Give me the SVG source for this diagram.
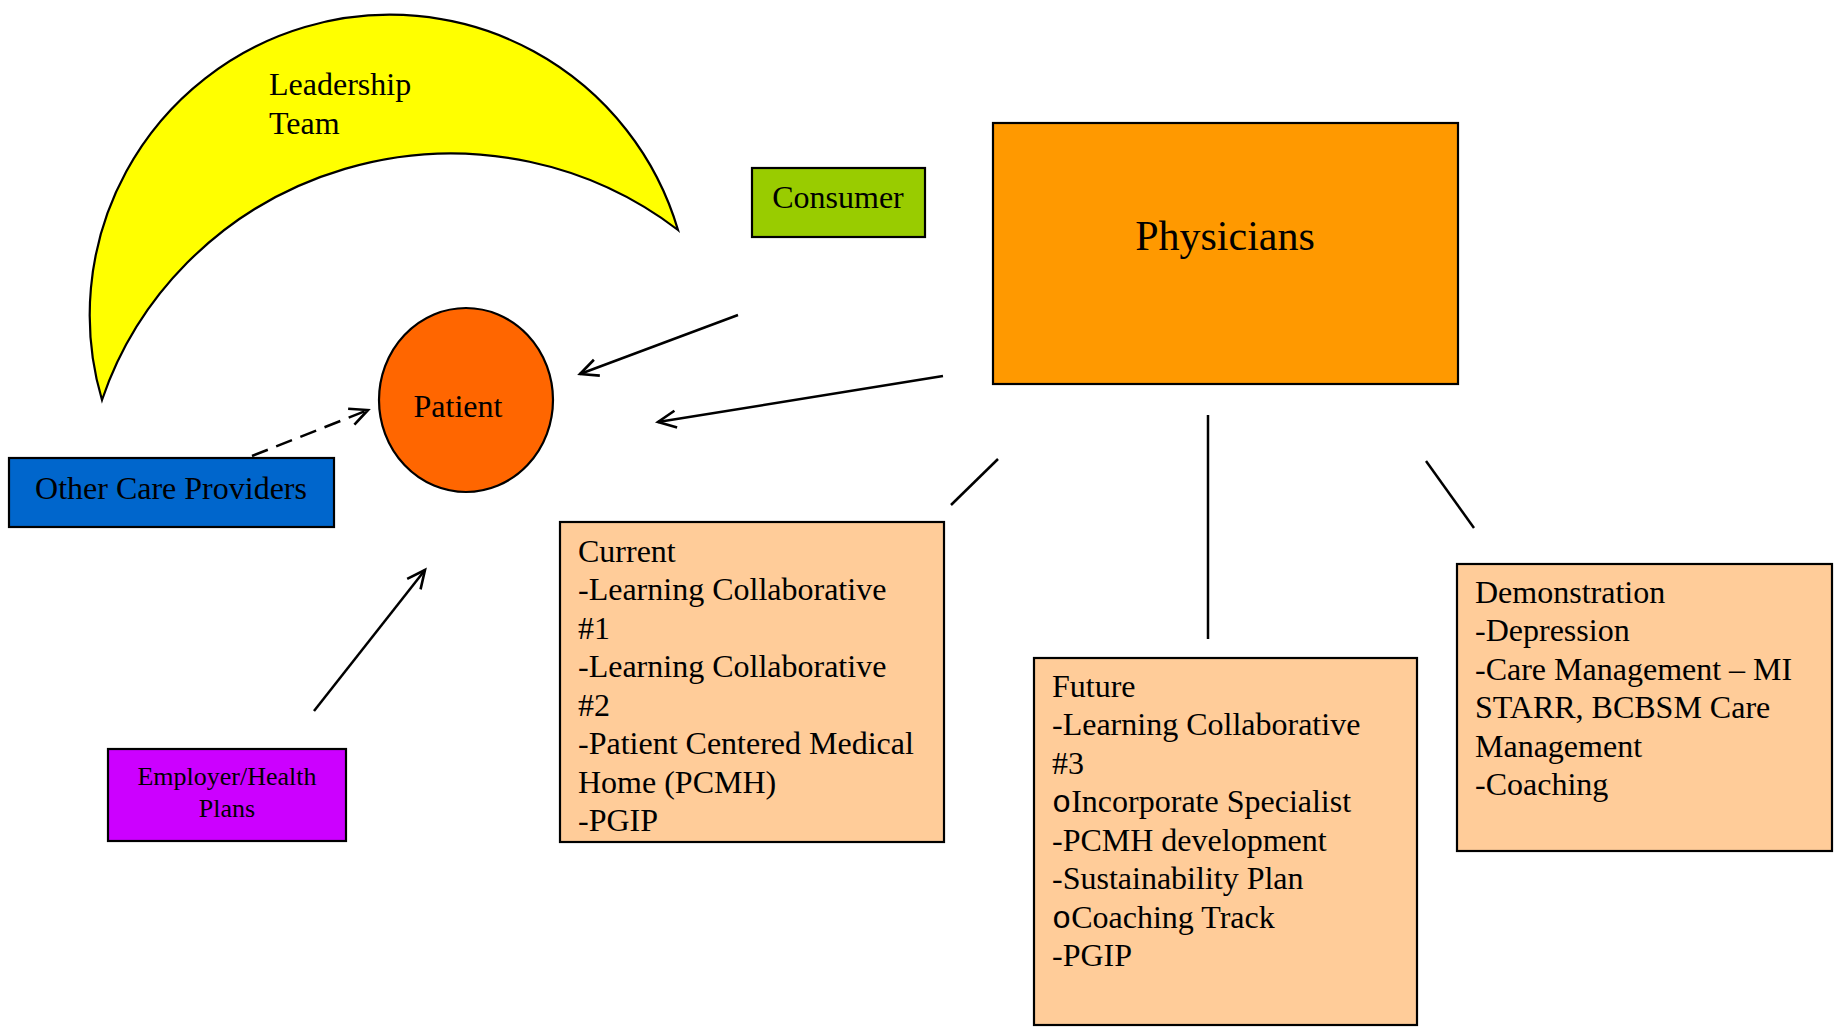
<svg xmlns="http://www.w3.org/2000/svg" width="1839" height="1027" viewBox="0 0 1839 1027">
  <style>
    text { font-family: "Liberation Serif", "Times New Roman", serif; fill: #000; }
    .t32 { font-size: 32px; }
    .bullet { font-family: "Liberation Mono", "Courier New", monospace; }
    .box { stroke: #000; stroke-width: 2.2; }
    .link { stroke: #000; stroke-width: 2.5; fill: none; }
  </style>
  <defs>
    <marker id="openArrow" markerUnits="userSpaceOnUse" markerWidth="22" markerHeight="22" refX="19" refY="10" orient="auto" viewBox="0 0 22 20">
      <path d="M1,1.5 L19,10 L1,18.5" fill="none" stroke="#000" stroke-width="2.6"/>
    </marker>
  </defs>
  <rect width="1839" height="1027" fill="#fff"/>

  <!-- crescent: outer circular arc, inner flatter arc -->
  <g id="leadership-team">
    <path class="box" fill="#FFFF00" d="M102,400 A300,300 0 1 1 678,230 A368,360 0 0 0 102,400 Z"/>
    <text class="t32" x="269" y="95">Leadership</text>
    <text class="t32" x="269" y="134">Team</text>
  </g>

  <g id="consumer">
    <rect class="box" x="752" y="168" width="173" height="69" fill="#99CC00"/>
    <text class="t32" x="838" y="208" text-anchor="middle">Consumer</text>
  </g>

  <g id="physicians">
    <rect class="box" x="993" y="123" width="465" height="261" fill="#FF9900"/>
    <text x="1225" y="250" font-size="42" text-anchor="middle">Physicians</text>
  </g>

  <g id="patient">
    <ellipse class="box" cx="466" cy="400" rx="87" ry="92" fill="#FF6600"/>
    <text class="t32" x="458" y="417" text-anchor="middle">Patient</text>
  </g>

  <g id="other-care-providers">
    <rect class="box" x="9" y="458" width="325" height="69" fill="#0066CC"/>
    <text class="t32" x="171" y="499" text-anchor="middle">Other Care Providers</text>
  </g>

  <g id="employer-health-plans">
    <rect class="box" x="108" y="749" width="238" height="92" fill="#CC00FF"/>
    <text x="227" y="785" font-size="26" text-anchor="middle">Employer/Health</text>
    <text x="227" y="817" font-size="26" text-anchor="middle">Plans</text>
  </g>

  <g id="current">
    <rect class="box" x="560" y="522" width="384" height="320" fill="#FFCC99"/>
    <text class="t32" x="578">
      <tspan x="578" y="562">Current</tspan>
      <tspan x="578" y="600">-Learning Collaborative</tspan>
      <tspan x="578" y="639">#1</tspan>
      <tspan x="578" y="677">-Learning Collaborative</tspan>
      <tspan x="578" y="716">#2</tspan>
      <tspan x="578" y="754">-Patient Centered Medical</tspan>
      <tspan x="578" y="793">Home (PCMH)</tspan>
      <tspan x="578" y="831">-PGIP</tspan>
    </text>
  </g>

  <g id="future">
    <rect class="box" x="1034" y="658" width="383" height="367" fill="#FFCC99"/>
    <text class="t32" x="1052">
      <tspan x="1052" y="697">Future</tspan>
      <tspan x="1052" y="735">-Learning Collaborative</tspan>
      <tspan x="1052" y="774">#3</tspan>
      <tspan x="1052" y="812"><tspan class="bullet">o</tspan>Incorporate Specialist</tspan>
      <tspan x="1052" y="851">-PCMH development</tspan>
      <tspan x="1052" y="889">-Sustainability Plan</tspan>
      <tspan x="1052" y="928"><tspan class="bullet">o</tspan>Coaching Track</tspan>
      <tspan x="1052" y="966">-PGIP</tspan>
    </text>
  </g>

  <g id="demonstration">
    <rect class="box" x="1457" y="564" width="375" height="287" fill="#FFCC99"/>
    <text class="t32" x="1475">
      <tspan x="1475" y="603">Demonstration</tspan>
      <tspan x="1475" y="641">-Depression</tspan>
      <tspan x="1475" y="680">-Care Management – MI</tspan>
      <tspan x="1475" y="718">STARR, BCBSM Care</tspan>
      <tspan x="1475" y="757">Management</tspan>
      <tspan x="1475" y="795">-Coaching</tspan>
    </text>
  </g>

  <g id="connectors">
    <line class="link" x1="738" y1="315" x2="580" y2="374" marker-end="url(#openArrow)"/>
    <line class="link" x1="943" y1="376" x2="658" y2="422" marker-end="url(#openArrow)"/>
    <line class="link" x1="252" y1="456" x2="368" y2="410" stroke-dasharray="17,9" marker-end="url(#openArrow)"/>
    <line class="link" x1="314" y1="711" x2="425" y2="570" marker-end="url(#openArrow)"/>
    <line class="link" x1="998" y1="459" x2="951" y2="505"/>
    <line class="link" x1="1208" y1="415" x2="1208" y2="639"/>
    <line class="link" x1="1426" y1="461" x2="1474" y2="528"/>
  </g>
</svg>
